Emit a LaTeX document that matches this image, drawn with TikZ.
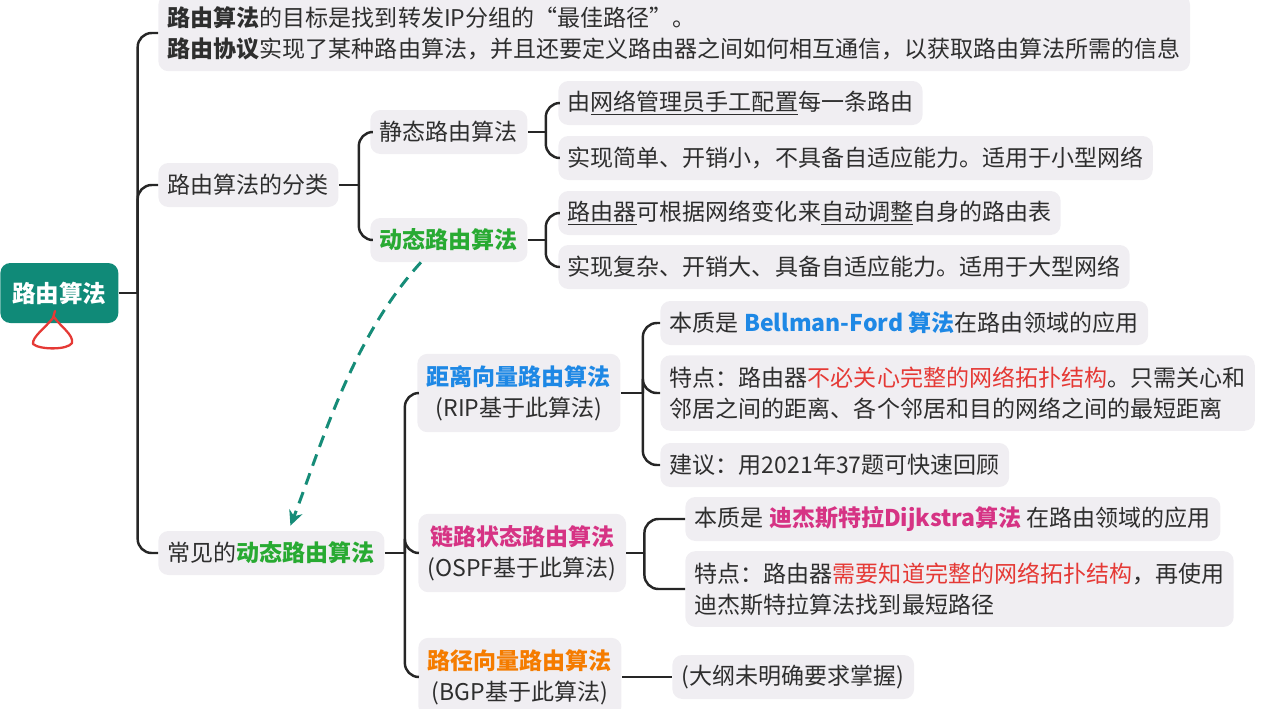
\documentclass[tikz,border=0pt]{standalone}
\usepackage{fontspec}
\setmainfont{Noto Sans CJK SC}
\usetikzlibrary{calc,arrows.meta}
\definecolor{rootc}{RGB}{16,138,120}
\definecolor{boxc}{RGB}{240,238,242}
\definecolor{linec}{RGB}{38,38,38}
\definecolor{greenc}{RGB}{40,170,50}
\definecolor{bluec}{RGB}{30,136,229}
\definecolor{magc}{RGB}{214,51,132}
\definecolor{orangec}{RGB}{245,124,0}
\definecolor{redc}{RGB}{229,57,53}
\definecolor{arrowc}{RGB}{22,140,120}
\begin{document}
\begin{tikzpicture}[x=.02cm,y=-.02cm,
  box/.style={fill=boxc,rounded corners=.2cm,inner xsep=.19cm,inner ysep=0pt,
    minimum height=.88cm,anchor=west,text=black!82,
    font=\fontsize{13.1pt}{17.6pt}\selectfont},
  tall/.style={box,inner ysep=.23cm},
  rootbox/.style={fill=rootc,rounded corners=.2cm,text=white,anchor=west,
    minimum width=2.36cm,minimum height=1.2cm,
    font=\fontsize{13.4pt}{17.6pt}\selectfont\bfseries},
  link/.style={draw=linec,line width=1.4pt},
  dlink/.style={draw=arrowc,line width=1.7pt,dash pattern=on .24cm off .16cm,
    -{Stealth[length=.3cm,width=.28cm]}}]
\useasboundingbox (0,0) rectangle (1265,708);
\node[rootbox] (root) at (0,293) {路由算法};
\node[tall,align=left] (goal) at (158,33) {\textbf{路由算法}的目标是找到转发IP分组的“最佳路径”。\\\textbf{路由协议}实现了某种路由算法，并且还要定义路由器之间如何相互通信，以获取路由算法所需的信息};
\node[box] (cls) at (158,185) {路由算法的分类};
\node[box] (st) at (370,132) {静态路由算法};
\node[box] (dy) at (370,240) {\textbf{\color{greenc}动态路由算法}};
\node[box] (st1) at (558,103) {由\underline{网络管理员手工配置}每一条路由};
\node[box] (st2) at (558,158) {实现简单、开销小，不具备自适应能力。适用于小型网络};
\node[box] (dy1) at (558,213) {\underline{路由器}可根据网络变化来\underline{自动调整}自身的路由表};
\node[box] (dy2) at (558,267) {实现复杂、开销大、具备自适应能力。适用于大型网络};
\node[box] (com) at (158,553) {常见的\textbf{\color{greenc}动态路由算法}};
\node[tall,align=center] (dv) at (417,393) {\textbf{\color{bluec}距离向量路由算法}\\(RIP基于此算法)};
\node[tall,align=center] (ls) at (418,553) {\textbf{\color{magc}链路状态路由算法}\\(OSPF基于此算法)};
\node[tall,align=center] (pv) at (418,677) {\textbf{\color{orangec}路径向量路由算法}\\(BGP基于此算法)};
\node[box] (dv1) at (660,323) {本质是 \textbf{\color{bluec}Bellman-Ford 算法}在路由领域的应用};
\node[tall,align=left] (dv2) at (660,393) {特点：路由器\textcolor{redc}{不必关心完整的网络拓扑结构}。只需关心和\\邻居之间的距离、各个邻居和目的网络之间的最短距离};
\node[box] (dv3) at (660,465) {建议：用2021年37题可快速回顾};
\node[box] (ls1) at (685,519) {本质是 \textbf{\color{magc}迪杰斯特拉Dijkstra算法} 在路由领域的应用};
\node[tall,align=left] (ls2) at (685,589) {特点：路由器\textcolor{redc}{需要知道完整的网络拓扑结构}，再使用\\迪杰斯特拉算法找到最短路径};
\node[box] (pv1) at (672,677) {(大纲未明确要求掌握)};
\draw[link] (root.east) -- ++(19,0) coordinate (j0);
\foreach \n in {goal,cls,com} \draw[link,rounded corners=8] (j0) |- (\n.west);
\draw[link] (cls.east) -- ++(20,0) coordinate (j1);
\foreach \n in {st,dy} \draw[link,rounded corners=8] (j1) |- (\n.west);
\draw[link] (st.east) -- ++(18,0) coordinate (j2);
\foreach \n in {st1,st2} \draw[link,rounded corners=8] (j2) |- (\n.west);
\draw[link] (dy.east) -- ++(18,0) coordinate (j3);
\foreach \n in {dy1,dy2} \draw[link,rounded corners=8] (j3) |- (\n.west);
\draw[link] (com.east) -- ++(20,0) coordinate (j4);
\foreach \n in {dv,ls,pv} \draw[link,rounded corners=8] (j4) |- (\n.west);
\draw[link] (dv.east) -- ++(22,0) coordinate (j5);
\foreach \n in {dv1,dv2,dv3} \draw[link,rounded corners=8] (j5) |- (\n.west);
\draw[link] (ls.east) -- ++(18,0) coordinate (j6);
\foreach \n in {ls1,ls2} \draw[link,rounded corners=8] (j6) |- (\n.west);
\draw[link] (pv.east) -- (pv1.west);
\draw[dlink] ([xshift=-.56cm]dy.south) .. controls (350,340) and (320,450) .. ([xshift=.38cm,yshift=.1cm]com.north);
\draw[redc,line width=1.3pt,line cap=round,line join=round] (55,311) -- (53,318)
  .. controls (45,328) and (32,337) .. (33,344)
  .. controls (40,350) and (68,350) .. (72,343)
  .. controls (74,335) and (60,326) .. (54,317);
\end{tikzpicture}
\end{document}
